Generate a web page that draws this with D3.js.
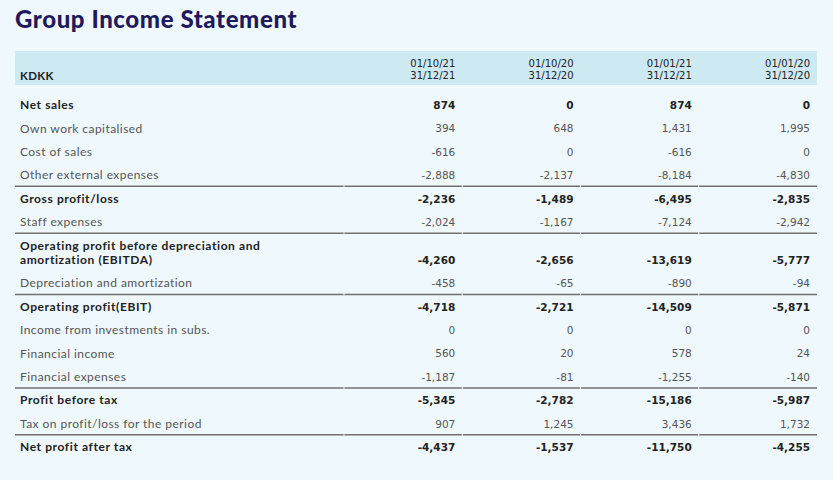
<!DOCTYPE html>
<html>
<head>
<meta charset="utf-8">
<script src="https://cdn.jsdelivr.net/npm/d3@7"></script>
<style>
  html, body { margin: 0; padding: 0; background: #eff8fc; }
  svg { display: block; }
</style>
</head>
<body>
<svg id="chart" width="833" height="480"></svg>
<script>
// ---- Data ----
const title = "Group Income Statement";
const unitLabel = "KDKK";
const periodStart = ["01/10/21", "01/10/20", "01/01/21", "01/01/20"];
const periodEnd   = ["31/12/21", "31/12/20", "31/12/21", "31/12/20"];

const rowLabels = [
  ["Net sales"],
  ["Own work capitalised"],
  ["Cost of sales"],
  ["Other external expenses"],
  ["Gross profit/loss"],
  ["Staff expenses"],
  ["Operating profit before depreciation and", "amortization (EBITDA)"],
  ["Depreciation and amortization"],
  ["Operating profit(EBIT)"],
  ["Income from investments in subs."],
  ["Financial income"],
  ["Financial expenses"],
  ["Profit before tax"],
  ["Tax on profit/loss for the period"],
  ["Net profit after tax"]
];
const rowBold = [true, false, false, false, true, false, true, false, true, false, false, false, true, false, true];
const ruleAbove = [false, false, false, false, true, false, true, false, true, false, false, false, true, false, true];

const col1 = [874, 394, -616, -2888, -2236, -2024, -4260, -458, -4718, 0, 560, -1187, -5345, 907, -4437];
const col2 = [0, 648, 0, -2137, -1489, -1167, -2656, -65, -2721, 0, 20, -81, -2782, 1245, -1537];
const col3 = [874, 1431, -616, -8184, -6495, -7124, -13619, -890, -14509, 0, 578, -1255, -15186, 3436, -11750];
const col4 = [0, 1995, 0, -4830, -2835, -2942, -5777, -94, -5871, 0, 24, -140, -5987, 1732, -4255];
const series = [col1, col2, col3, col4];

// ---- Layout ----
const svg = d3.select("#chart");
const left = 15, right = 817, labelColEnd = 344;
const fmt = d3.format(",");

const xCol = d3.scaleBand().domain(d3.range(4)).range([labelColEnd, right]).paddingInner(0).paddingOuter(0);
const numRight = i => xCol(i) + xCol.bandwidth() - 7;

// rows: cumulative units (extra lines add a fraction of a unit)
const extraLine = 0.62;
const rowStart = [];
let acc = 0;
rowLabels.forEach((l) => { rowStart.push(acc); acc += 1 + (l.length - 1) * extraLine; });
const yRow = d3.scaleLinear().domain([0, rowStart[rowStart.length - 1]]).range([105, 447]);
const unitPx = yRow(1) - yRow(0);

// Title
svg.append("text")
  .attr("x", left).attr("y", 28)
  .attr("font-family", "Lato, 'Noto Sans', sans-serif")
  .attr("font-weight", 900)
  .attr("font-size", 24)
  .attr("letter-spacing", 0.6)
  .attr("fill", "#1f1a5c")
  .text(title);

// Header band
svg.append("rect")
  .attr("x", left).attr("y", 51)
  .attr("width", right - left).attr("height", 34)
  .attr("fill", "#cde9f1");

svg.append("text")
  .attr("x", 20).attr("y", 80)
  .attr("font-family", "Lato, sans-serif")
  .attr("font-weight", 700)
  .attr("font-size", 11.5)
  .attr("letter-spacing", 0.3)
  .attr("fill", "#222")
  .text(unitLabel);

const hdr = svg.append("g").attr("font-family", "'DejaVu Sans', Verdana, sans-serif")
  .attr("font-size", 10).attr("fill", "#222").attr("text-anchor", "end");
hdr.selectAll("text.s").data(periodStart).join("text").attr("class", "s")
  .attr("x", (d, i) => numRight(i)).attr("y", 67).text(d => d);
hdr.selectAll("text.e").data(periodEnd).join("text").attr("class", "e")
  .attr("x", (d, i) => numRight(i)).attr("y", 79).text(d => d);

// Rules (per cell segments with small gaps)
const cellEdges = [[left, labelColEnd]].concat(d3.range(4).map(i => [xCol(i), xCol(i) + xCol.bandwidth()]));
rowLabels.forEach((l, r) => {
  if (!ruleAbove[r]) return;
  const y = yRow(rowStart[r]) - unitPx * 0.5 - 0.5;
  cellEdges.forEach(([a, b], k) => {
    svg.append("line")
      .attr("x1", a + (k === 0 ? 0 : 0.5)).attr("x2", b - (k === cellEdges.length - 1 ? 0 : 0.5))
      .attr("y1", y).attr("y2", y)
      .attr("stroke", "#707070").attr("stroke-width", 1.5);
  });
});

// Labels
const lab = svg.append("g").attr("font-family", "Lato, sans-serif").attr("font-size", 12);
rowLabels.forEach((lines, r) => {
  lines.forEach((t, k) => {
    lab.append("text")
      .attr("x", 20)
      .attr("y", yRow(rowStart[r] + k * extraLine) + 4.2)
      .attr("font-weight", rowBold[r] ? 700 : 400)
      .attr("letter-spacing", rowBold[r] ? 0.6 : 0.45)
      .attr("fill", rowBold[r] ? "#222" : "#555")
      .text(t);
  });
});

// Numbers
const num = svg.append("g").attr("font-family", "'DejaVu Sans', Verdana, sans-serif").attr("font-size", 10.5).attr("text-anchor", "end");
series.forEach((vals, c) => {
  num.selectAll("text.c" + c).data(vals).join("text").attr("class", "c" + c)
    .attr("x", numRight(c))
    .attr("y", (d, r) => yRow(rowStart[r] + (rowLabels[r].length - 1) * extraLine) + 4)
    .attr("font-weight", (d, r) => rowBold[r] ? 700 : 400)
    .attr("fill", (d, r) => rowBold[r] ? "#222" : "#555")
    .text(d => fmt(d).replace("−", "-"));
});
</script>
</body>
</html>
